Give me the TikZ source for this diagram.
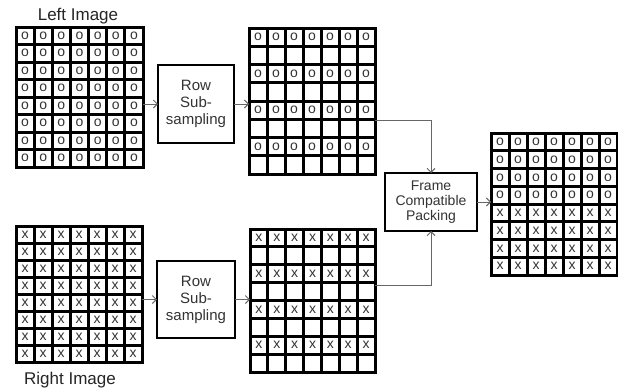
\documentclass[tikz,border=0pt]{standalone}
\usepackage{fontspec}
\setmainfont{Liberation Sans}
\usetikzlibrary{arrows.meta,calc}
\tikzset{
  gridbox/.style={draw=black, line width=3pt, fill=white, inner sep=0pt, outer sep=0pt},
  gridline/.style={draw=black, line width=3pt},
  cellsym/.style={inner sep=0pt, font=\fontsize{14}{14}\selectfont, text=black!80},
  procbox/.style={draw=black, line width=2.6pt, fill=white, inner sep=0pt, outer sep=0pt, align=center, text=black!80, font=\fontsize{15}{17}\selectfont},
  lbl/.style={inner sep=0pt, text=black!85, font=\fontsize{17}{17}\selectfont},
  conn/.style={draw=black!60, line width=0.9pt, -{Straight Barb[length=4pt,width=8pt]}}
}
\newcommand\drawgrid[6]{%
  \pgfmathsetmacro\gw{#4-#2}\pgfmathsetmacro\gh{#5-#3}%
  \node[gridbox, minimum width=\gw pt, minimum height=\gh pt] (#1) at ({(#2+#4)/2},{(#3+#5)/2}) {};
  \foreach \i in {1,...,6} \draw[gridline] ({#2+\i*\gw/7},#3) -- ({#2+\i*\gw/7},#5);
  \foreach \j in {1,...,7} \draw[gridline] (#2,{#3+\j*\gh/8}) -- (#4,{#3+\j*\gh/8});
  \foreach \s [count=\r] in {#6} {%
    \if\s n\else
      \foreach \c in {1,...,7} \node[cellsym] (#1-\r-\c) at ({#2+(\c-0.5)*\gw/7},{#3+(\r-0.5)*\gh/8}) {\s};
    \fi}%
}
\begin{document}
\begin{tikzpicture}[x=1pt,y=-1pt]
\useasboundingbox (0,0) rectangle (618,391);
\fill[white] (0,0) rectangle (618,391);
% grids
\drawgrid{leftimg}{16}{27}{143}{167}{o,o,o,o,o,o,o,o}
\drawgrid{rightimg}{16}{226}{142}{362}{x,x,x,x,x,x,x,x}
\drawgrid{midtop}{249}{28}{375}{174}{o,n,o,n,o,n,o,n}
\drawgrid{midbot}{250}{229}{375}{372}{x,n,x,n,x,n,x,n}
\drawgrid{outgrid}{491}{133}{617}{275}{o,o,o,o,x,x,x,x}
% labels
\node[lbl] (leftlbl) at (78,16) {Left Image};
\node[lbl] (rightlbl) at (70,380) {Right Image};
% process boxes
\node[procbox, minimum width=76pt, minimum height=78pt] (rowtop) at (196,104) {Row\\Sub-\\sampling};
\node[procbox, minimum width=78pt, minimum height=77pt] (rowbot) at (196,299.5) {Row\\Sub-\\sampling};
\node[procbox, minimum width=92pt, minimum height=58pt, font=\fontsize{14}{15}\selectfont] (pack) at (431,202) {Frame\\Compatible\\Packing};
% connectors
\draw[conn] (leftimg.east |- rowtop.west) -- (rowtop.west);
\draw[conn] (rowtop.east) -- (midtop.west |- rowtop.east);
\draw[conn] (rightimg.east |- rowbot.west) -- (rowbot.west);
\draw[conn] (rowbot.east) -- (midbot.west |- rowbot.east);
\coordinate (mtout) at ($(midtop.east)+(0,19)$);
\coordinate (mbout) at ($(midbot.east)+(0,-15)$);
\draw[conn] (mtout) -| (pack.north);
\draw[conn] (mbout) -| (pack.south);
\draw[conn] (pack.east) -- (outgrid.west |- pack.east);
\end{tikzpicture}
\end{document}
